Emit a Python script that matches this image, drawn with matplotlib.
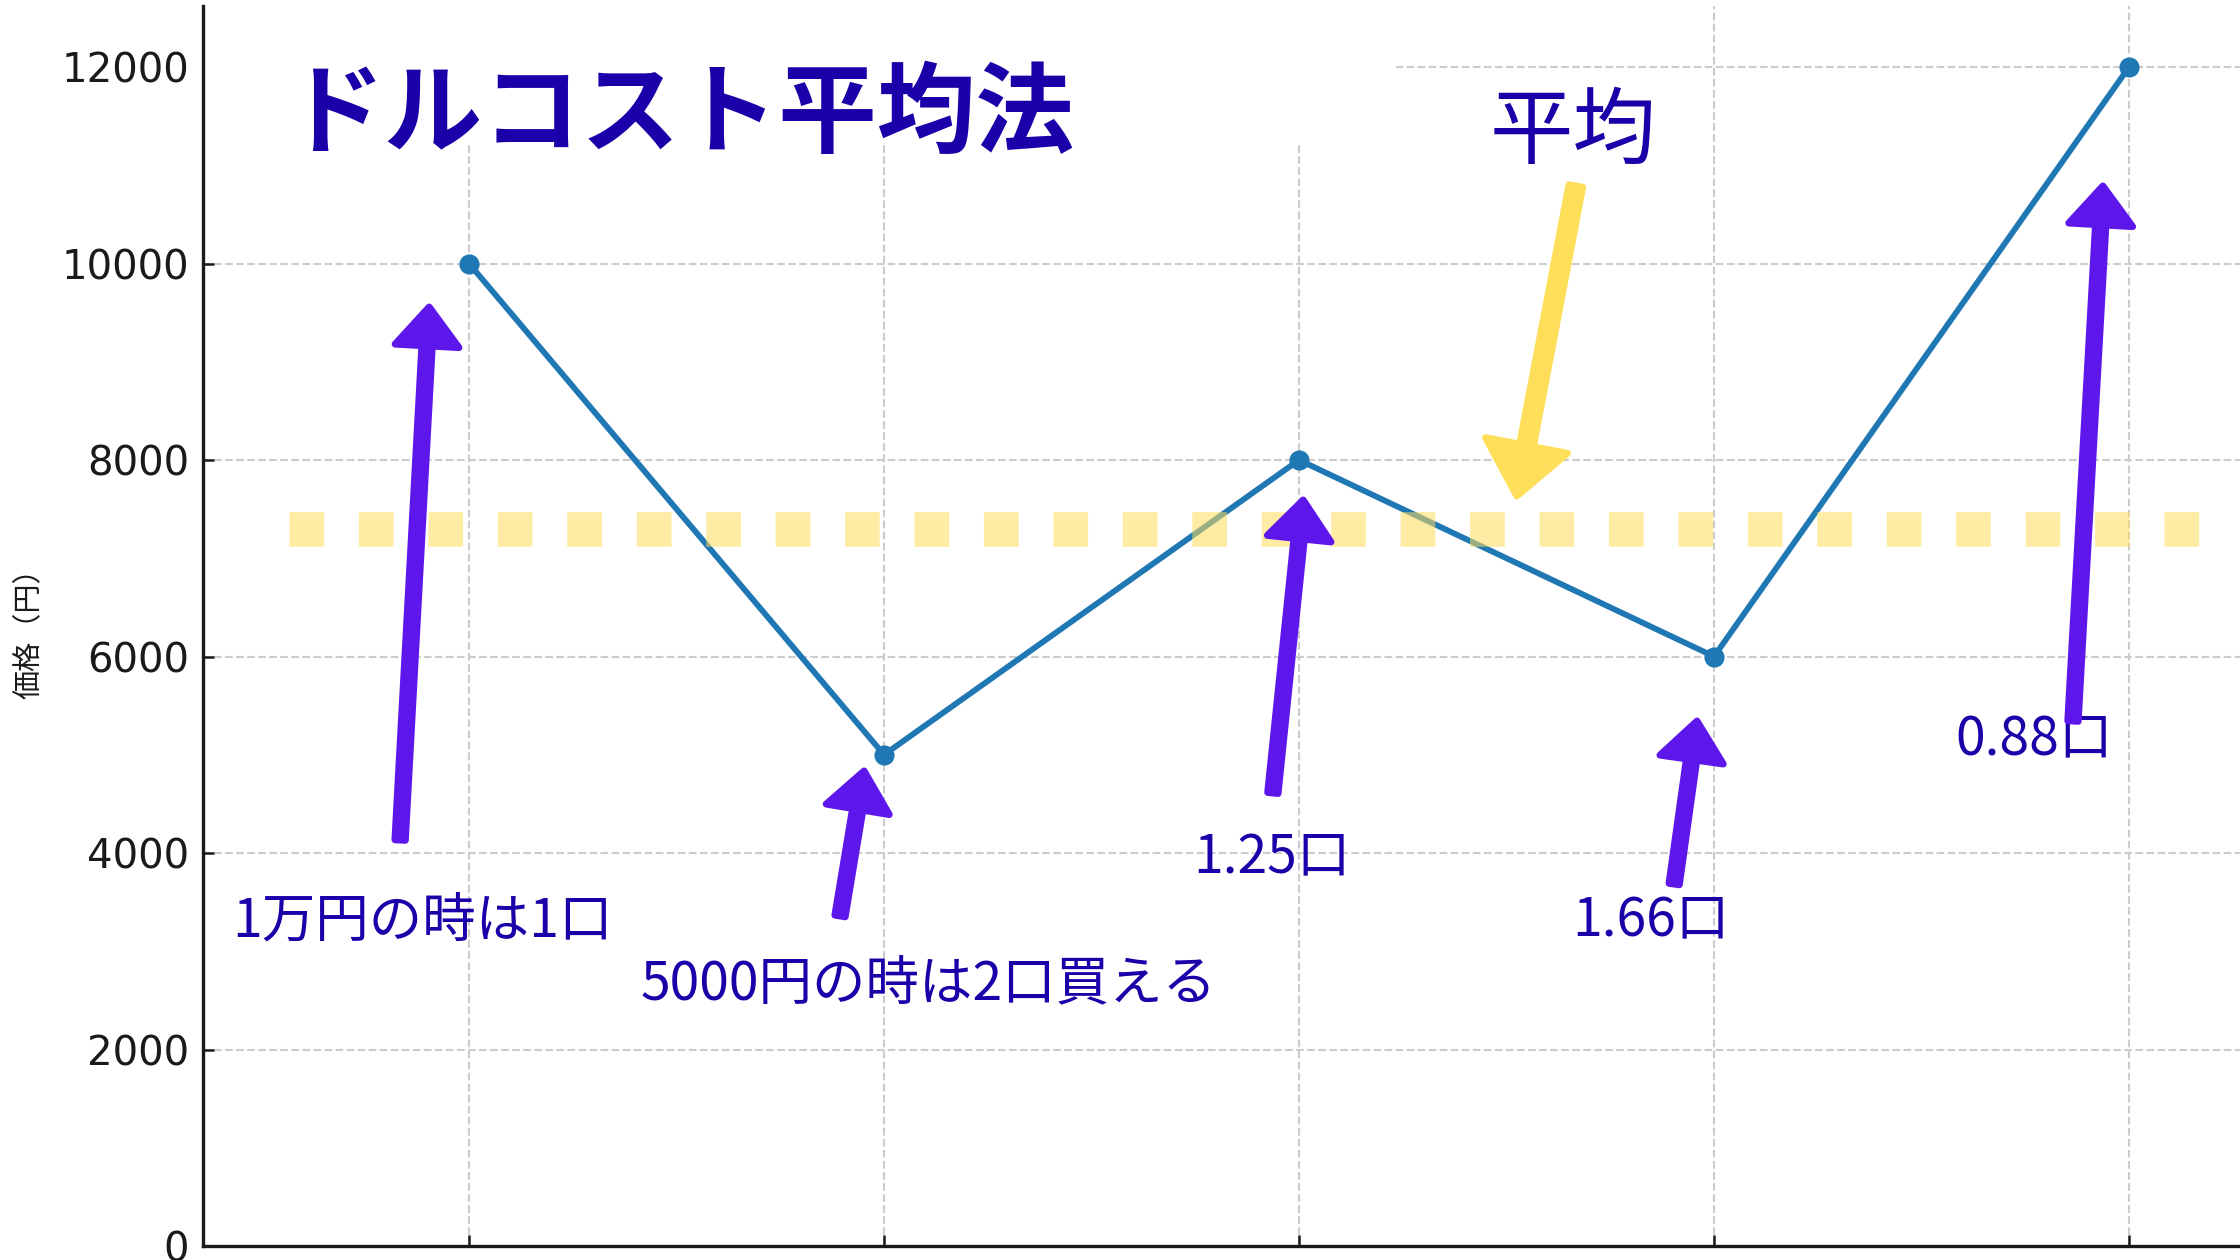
import matplotlib
matplotlib.use('Agg')
import matplotlib.pyplot as plt
from matplotlib.patches import Rectangle

# data
months = [1, 2, 3, 4, 5]
prices = [10000, 5000, 8000, 6000, 12000]
avg_price = 7300
yticks = [0, 2000, 4000, 6000, 8000, 10000, 12000]

title_text = 'ドルコスト平均法'
ylabel_text = '価格（円）'
avg_text = '平均'

# purple notes: label, label position, arrow tail -> arrow tip (data coords)
note_labels = ['1万円の時は1口', '5000円の時は2口買える', '1.25口', '1.66口', '0.88口']
note_x = [0.889, 2.108, 2.935, 3.848, 4.771]
note_y = [3310, 2670, 3950, 3310, 5150]
tail_x = [0.834, 1.894, 2.937, 3.904, 4.865]
tail_y = [4132, 3359, 4611, 3684, 5343]
tip_x = [0.904, 1.952, 3.010, 3.959, 4.937]
tip_y = [9557, 4835, 7593, 5343, 10789]

avg_pos = (3.660, 11330)
avg_tail = (3.667, 10789)
avg_tip = (3.525, 7634)
avg_span = (0.566, 5.178)
title_pos = (1.508, 11500)

BLUE = '#1f77b4'
NAVY = '#1a00a8'
PURPLE = '#5e17eb'
YELLOW = '#ffde59'
JP = ['Noto Sans CJK JP', 'DejaVu Sans']

W, H = 2240, 1260
fig = plt.figure(figsize=(W / 100, H / 100), dpi=100)
# axes is wider than the canvas: the right side is cut like in the source
ax = fig.add_axes([203 / W, 14 / H, (2300 - 203) / W, (1246 - 6) / H])
ax.set_xlim(0.359, 5.412)
ax.set_ylim(0, 12621)

ax.set_axisbelow(True)
ax.grid(True, linestyle='--', color='#cccccc', linewidth=1.5)

ax.plot(months, prices, color=BLUE, linewidth=4.2, marker='o', markersize=13.5, zorder=3)

ax.plot(avg_span, [avg_price, avg_price], color=YELLOW, alpha=0.55, linewidth=25,
        linestyle=(0, (1, 1)), dash_capstyle='butt', zorder=4)

# white patch behind the title hides the grid there
ax.add_patch(Rectangle((0.365, 11226), 3.234 - 0.365, 2000, facecolor='white',
                       edgecolor='none', zorder=1))
ax.text(title_pos[0], title_pos[1], title_text, fontsize=71, fontweight='bold',
        color=NAVY, ha='center', va='center', family=JP, zorder=6)

for lab, lx, ly in zip(note_labels, note_x, note_y):
    ax.text(lx, ly, lab, fontsize=38.5, color=NAVY, ha='center', va='center',
            family=JP, zorder=5)

for tx, ty, hx, hy in zip(tail_x, tail_y, tip_x, tip_y):
    ax.annotate('', xy=(hx, hy), xytext=(tx, ty),
                arrowprops=dict(facecolor=PURPLE, edgecolor=PURPLE, linewidth=5,
                                width=7.5, headwidth=46, headlength=28, shrink=0),
                zorder=7)

ax.text(avg_pos[0], avg_pos[1], avg_text, fontsize=60, color=NAVY,
        ha='center', va='center', family=JP, zorder=6)
ax.annotate('', xy=avg_tip, xytext=avg_tail,
            arrowprops=dict(facecolor=YELLOW, edgecolor=YELLOW, linewidth=5,
                            width=10, headwidth=60, headlength=37, shrink=0),
            zorder=7)

# x tick labels sit below the cut edge of the source picture
ax.set_xticks(months)
ax.set_yticks(yticks)
ax.tick_params(direction='in', length=8, width=1.8, labelsize=29, colors='#1a1a1a')
ax.tick_params(axis='y', pad=10)
ax.tick_params(axis='x', labelbottom=False)
for side in ['top', 'right']:
    ax.spines[side].set_visible(False)
for side in ['left', 'bottom']:
    ax.spines[side].set_linewidth(2.4)
    ax.spines[side].set_color('#1a1a1a')

ax.set_ylabel(ylabel_text, fontsize=21, family=JP, color='#1a1a1a')
ax.yaxis.set_label_coords((30 - 203) / (2300 - 203), 0.5)
ax.yaxis.label.set_va('center')

fig.savefig('out.png', dpi=100)
